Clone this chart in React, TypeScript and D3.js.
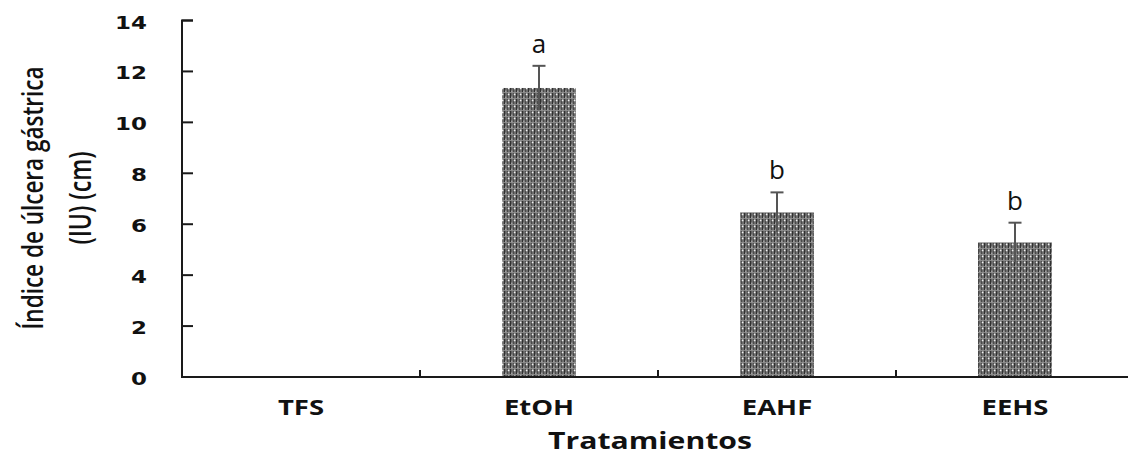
import * as d3 from "d3";

const categories = ["TFS", "EtOH", "EAHF", "EEHS"];
const means = [0, 11.35, 6.47, 5.29];
const errors = [0, 0.87, 0.78, 0.77];
const letters = ["", "a", "b", "b"];
const yTicks = [0, 2, 4, 6, 8, 10, 12, 14];

const W = 1128;
const H = 455;
const x0 = 182;
const yBase = 377;
const yTop = 20.5;

const App = () => {
  const x = d3.scaleBand().domain(categories).range([x0, x0 + 238 * 4]).padding(0);
  const y = d3.scaleLinear().domain([0, 14]).range([yBase, yTop]);
  const barW = x.bandwidth() * 0.31;
  const boundaries = categories.slice(1).map((c) => x(c));

  return (
    <svg width={W} height={H} style={{ position: "absolute", left: 0, top: 0, background: "#fff" }}>
      <defs>
        <pattern id="dots" width="6" height="6" patternUnits="userSpaceOnUse">
          <rect width="6" height="6" fill="#6e6e6e" />
          <rect x="0" width="1.2" height="6" fill="#303030" />
          <rect x="3" width="1" height="6" fill="#4a4a4a" />
          <rect y="2" width="6" height="0.8" fill="#959595" />
          <circle cx="4.6" cy="4.4" r="0.9" fill="#f2f2f2" />
          <circle cx="1.8" cy="1.2" r="0.6" fill="#cfcfcf" />
        </pattern>
      </defs>

      {/* bars */}
      {categories.map((c, i) =>
        means[i] > 0 ? (
          <rect
            key={c}
            x={x(c)! + x.bandwidth() / 2 - barW / 2}
            y={y(means[i])}
            width={barW}
            height={yBase - y(means[i])}
            fill="url(#dots)"
          />
        ) : null
      )}

      {/* error bars */}
      {categories.map((c, i) => {
        if (!errors[i]) return null;
        const cx = x(c)! + x.bandwidth() / 2;
        return (
          <g key={"e" + c} stroke="#555" strokeWidth={2}>
            <line x1={cx} x2={cx} y1={y(means[i] + errors[i])} y2={y(means[i] - errors[i])} />
            <line x1={cx - 6.5} x2={cx + 6.5} y1={y(means[i] + errors[i])} y2={y(means[i] + errors[i])} />
          </g>
        );
      })}

      {/* letters */}
      {categories.map((c, i) =>
        letters[i] ? (
          <text
            key={"l" + c}
            x={x(c)! + x.bandwidth() / 2}
            y={y(means[i] + errors[i]) - 13}
            textAnchor="middle"
            fontFamily="Open Sans"
            fontSize={26}
            fill="#111"
          >
            {letters[i]}
          </text>
        ) : null
      )}

      {/* axes */}
      <g stroke="#1a1a1a" strokeWidth={2} fill="none">
        <path d={`M${x0 + 11},${yTop}H${x0}V${yBase}H${W}`} />
        {yTicks.map((t) => (
          <line key={"yt" + t} x1={x0} x2={x0 + 11} y1={y(t)} y2={y(t)} />
        ))}
        {boundaries.map((b, i) => (
          <line key={"xt" + i} x1={b} x2={b} y1={yBase} y2={yBase - 7} />
        ))}
      </g>

      {/* y tick labels */}
      {yTicks.map((t) => (
        <text
          key={"yl" + t}
          transform={`translate(147,${y(t) + 8}) scale(1.35,1)`}
          textAnchor="end"
          fontFamily="DejaVu Sans"
          fontWeight="bold"
          fontSize={17}
          fill="#111"
        >
          {t}
        </text>
      ))}

      {/* x labels */}
      {categories.map((c) => (
        <text
          key={"xl" + c}
          transform={`translate(${x(c)! + x.bandwidth() / 2},415) scale(1.25,1)`}
          textAnchor="middle"
          fontFamily="Open Sans"
          fontWeight="bold"
          fontSize={22}
          fill="#111"
        >
          {c}
        </text>
      ))}

      <text
        x={650}
        y={449}
        textAnchor="middle"
        fontFamily="Open Sans"
        fontWeight="bold"
        fontSize={23}
        textLength={204}
        lengthAdjust="spacingAndGlyphs"
        fill="#111"
      >
        Tratamientos
      </text>

      {/* y title */}
      <g transform="translate(0,198) rotate(-90)">
        <text
          x={0}
          y={43}
          textAnchor="middle"
          fontFamily="Open Sans"
          fontWeight={600}
          fontSize={29}
          textLength={263}
          lengthAdjust="spacingAndGlyphs"
          fill="#111"
        >
          Índice de úlcera gástrica
        </text>
        <text
          x={0}
          y={91}
          textAnchor="middle"
          fontFamily="Open Sans"
          fontWeight={600}
          fontSize={31}
          textLength={93}
          lengthAdjust="spacingAndGlyphs"
          fill="#111"
        >
          (IU) (cm)
        </text>
      </g>
    </svg>
  );
};

export default App;
